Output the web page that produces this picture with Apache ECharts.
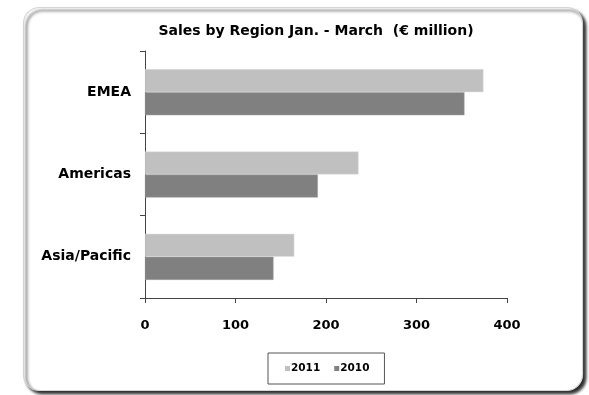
<!DOCTYPE html>
<html>
<head>
<meta charset="utf-8">
<script src="https://cdn.jsdelivr.net/npm/echarts@6/dist/echarts.min.js"></script>
<style>
html,body{margin:0;padding:0;background:#fff;}
#c{width:589px;height:395px;}
</style>
</head>
<body>
<div id="c"></div>
<script>
var categories = ['EMEA', 'Americas', 'Asia/Pacific'];
var seriesNames = ['2011', '2010'];
var values2011 = [374, 236, 165];
var values2010 = [353, 191, 142];
var xTicks = [0, 100, 200, 300, 400];

var chart = echarts.init(document.getElementById('c'), null, {renderer: 'canvas'});
var font = 'DejaVu Sans, Liberation Sans, Arial, sans-serif';
chart.setOption({
  animation: false,
  backgroundColor: '#fff',
  graphic: [{
    type: 'rect',
    z: -10,
    shape: {x: 23.5, y: 7.5, width: 559, height: 383, r: 16},
    style: {fill: '#fff', stroke: '#d4d4d4', lineWidth: 1.2,
            shadowColor: 'rgba(0,0,0,0.85)', shadowBlur: 3, shadowOffsetX: 3, shadowOffsetY: 3}
  }],
  title: {
    text: 'Sales by Region Jan. - March  (€ million)',
    left: 311, top: 19, textAlign: 'center',
    textStyle: {fontFamily: font, fontWeight: 'bold', fontSize: 14, color: '#000'}
  },
  legend: {
    data: seriesNames,
    left: 268, top: 353,
    itemWidth: 5, itemHeight: 5, itemGap: 14,
    icon: 'rect',
    itemStyle: {borderWidth: 0},
    padding: [10, 15, 10, 17],
    borderColor: '#555', borderWidth: 1,
    textStyle: {fontFamily: font, fontWeight: 'bold', fontSize: 10.5, color: '#000', padding: [0, 0, 0, -4]}
  },
  grid: {left: 145, top: 51, width: 362, height: 247, containLabel: false},
  xAxis: {
    type: 'value', min: 0, max: 400, interval: 100,
    axisLine: {show: true, lineStyle: {color: '#444', width: 1}},
    axisTick: {show: true, length: 5, lineStyle: {color: '#444'}},
    splitLine: {show: false},
    axisLabel: {margin: 21, fontFamily: font, fontWeight: 'bold', fontSize: 13, color: '#000',
      formatter: function (v) { return xTicks.indexOf(v) >= 0 ? String(v) : ''; }}
  },
  yAxis: {
    type: 'category', data: categories, inverse: true,
    axisLine: {show: true, lineStyle: {color: '#444', width: 1}},
    axisTick: {show: true, length: 5, lineStyle: {color: '#444'}},
    axisLabel: {margin: 14, fontFamily: font, fontWeight: 'bold', fontSize: 14, color: '#000'}
  },
  series: [
    {name: '2011', type: 'bar', data: values2011, barGap: '0%', barCategoryGap: '44%',
     itemStyle: {color: '#c0c0c0', borderColor: '#e0e0e0', borderWidth: 0.5}},
    {name: '2010', type: 'bar', data: values2010, barGap: '0%', barCategoryGap: '44%',
     itemStyle: {color: '#808080', borderColor: '#a0a0a0', borderWidth: 0.5}}
  ]
});
</script>
</body>
</html>
